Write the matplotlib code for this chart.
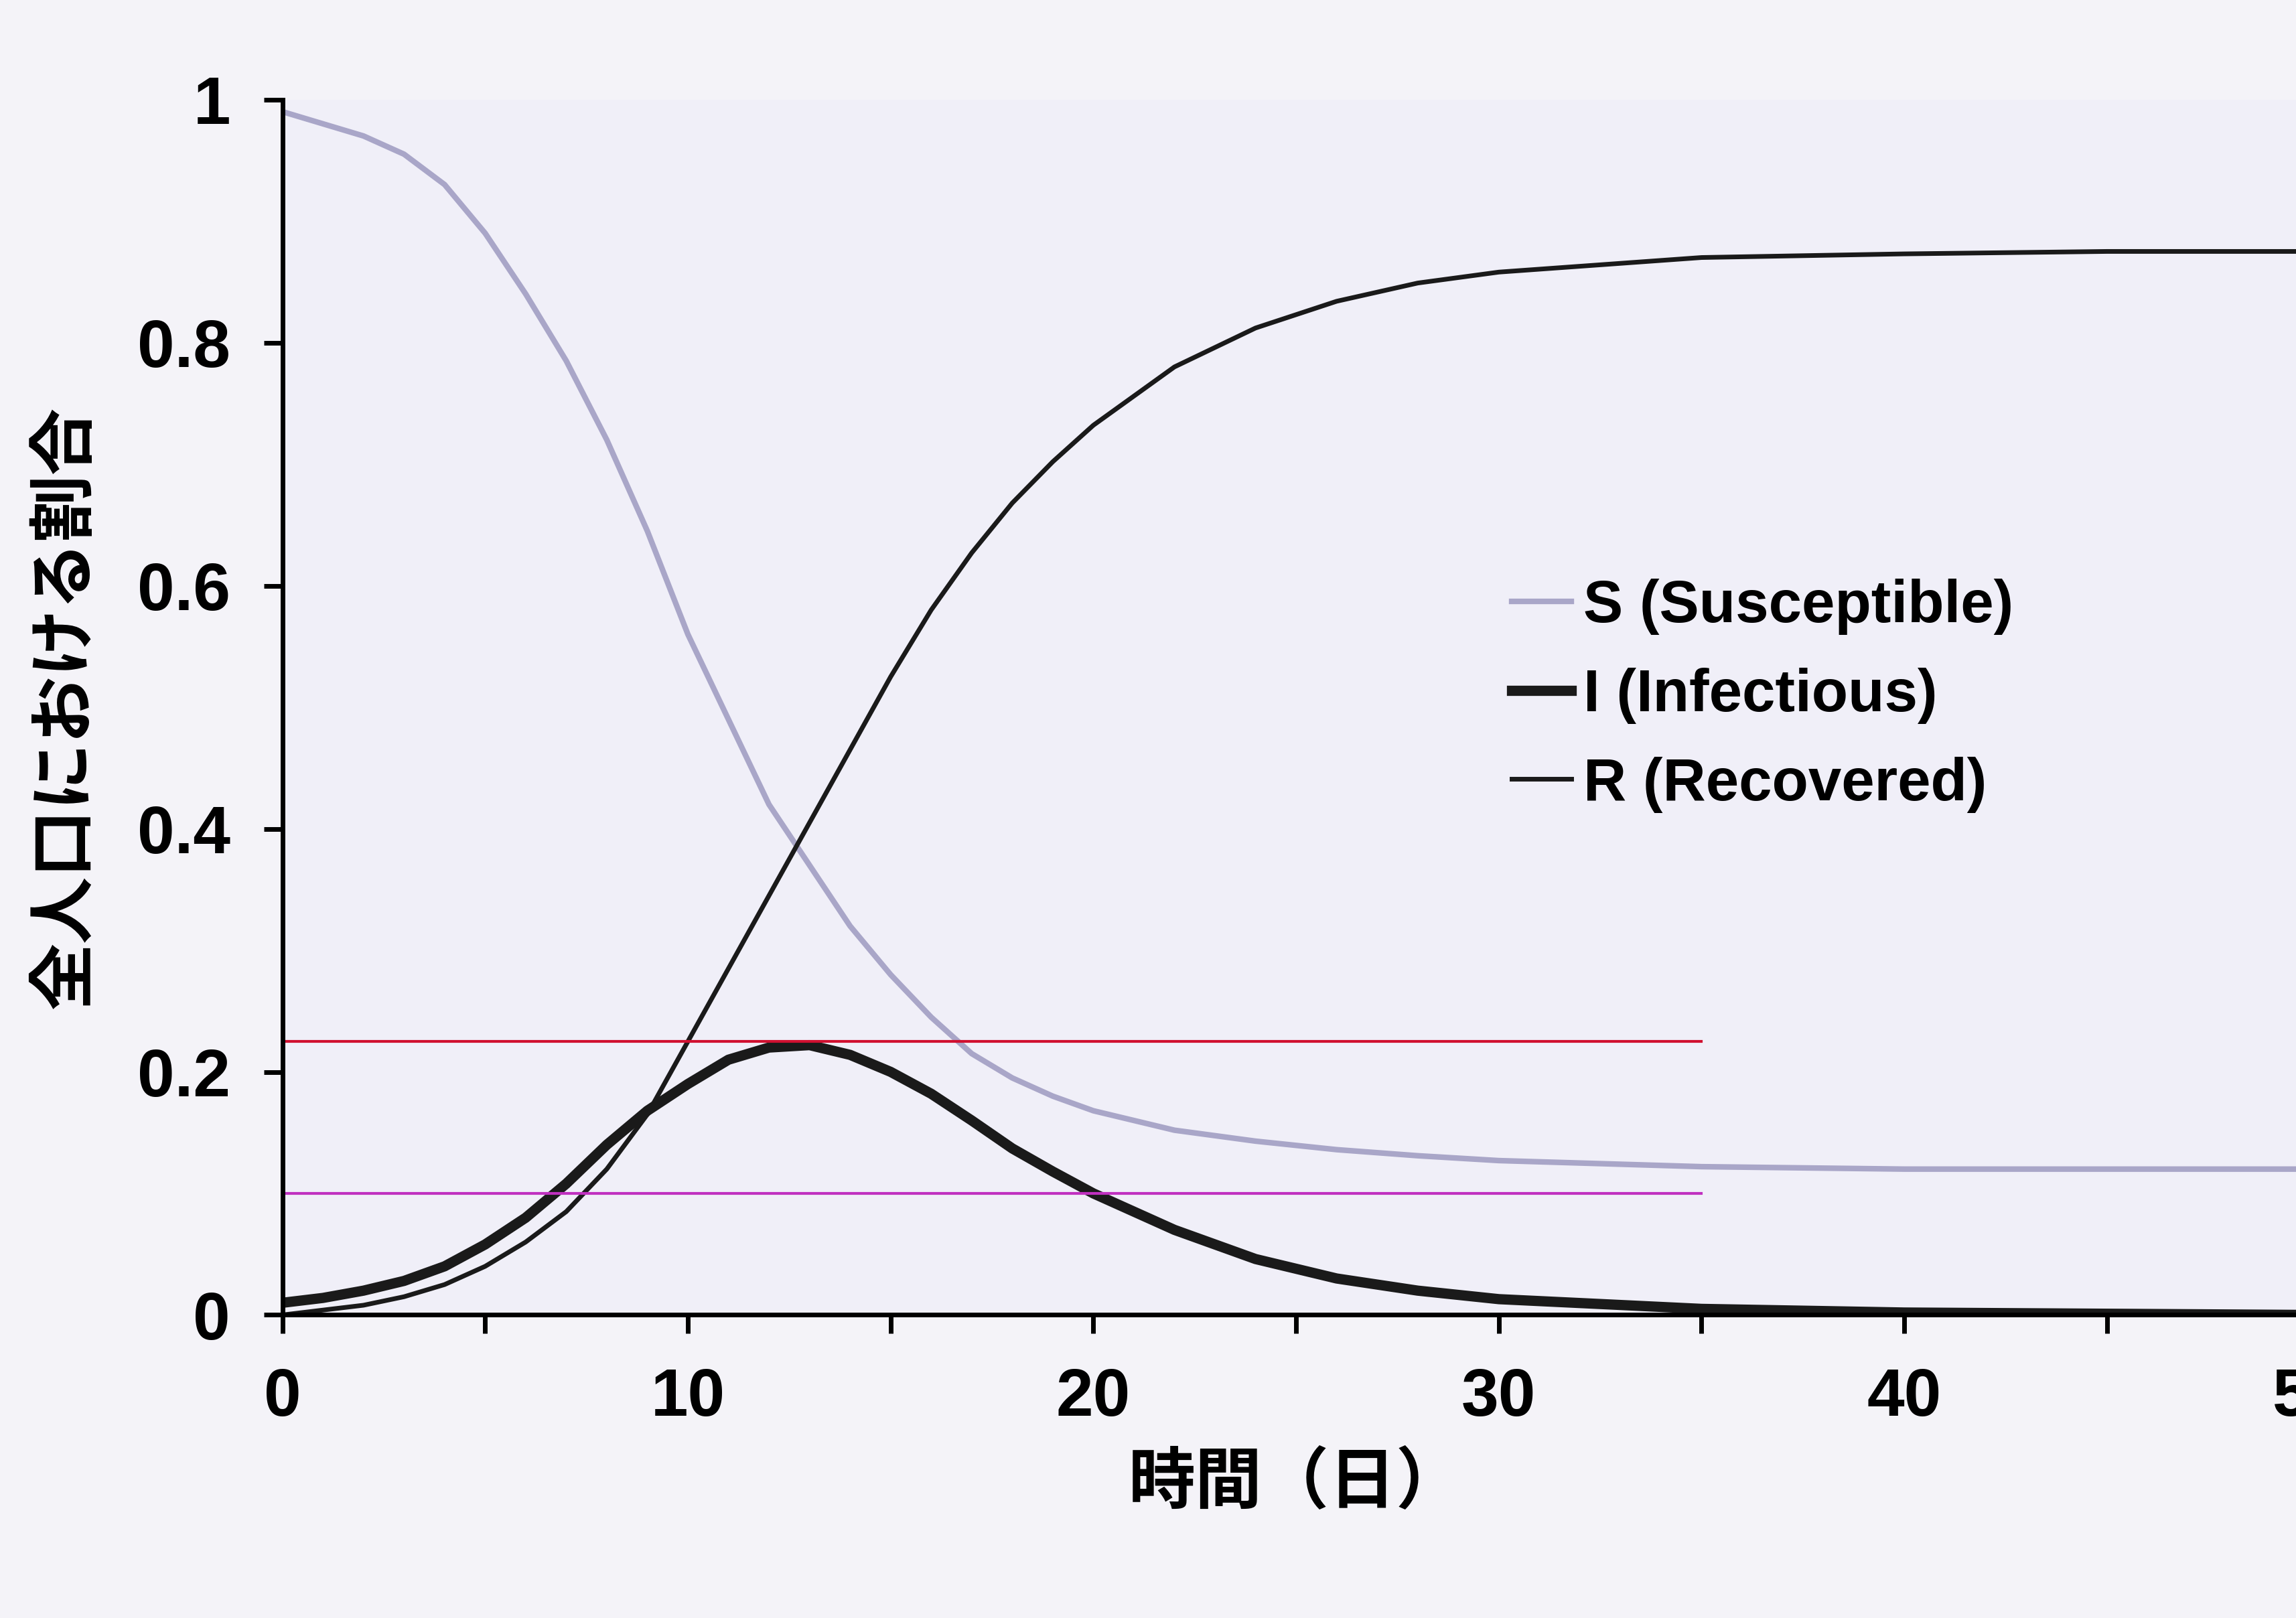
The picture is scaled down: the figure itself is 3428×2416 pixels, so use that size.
import matplotlib
matplotlib.use("Agg")
import matplotlib.pyplot as plt

plt.rcParams['font.family'] = ['Liberation Sans', 'Noto Sans CJK JP']

t = [0, 1, 2, 3, 4, 5, 6, 7, 8, 9, 10, 11, 12, 13, 14, 15, 16, 17, 18, 19, 20, 22, 24, 26, 28, 30, 35, 40, 45, 50]
S = [0.99, 0.98, 0.97, 0.955, 0.93, 0.89, 0.84, 0.785, 0.72, 0.645, 0.56, 0.49, 0.42, 0.37, 0.32, 0.28, 0.245, 0.215, 0.195, 0.18, 0.168, 0.152, 0.143, 0.136, 0.131, 0.127, 0.122, 0.12, 0.12, 0.12]
I = [0.01, 0.014, 0.02, 0.028, 0.04, 0.058, 0.08, 0.108, 0.14, 0.168, 0.19, 0.21, 0.22, 0.222, 0.214, 0.2, 0.182, 0.16, 0.137, 0.118, 0.1, 0.07, 0.046, 0.03, 0.02, 0.013, 0.005, 0.002, 0.001, 0.0]
R = [0.0, 0.004, 0.008, 0.015, 0.025, 0.04, 0.06, 0.085, 0.12, 0.165, 0.225, 0.285, 0.345, 0.405, 0.465, 0.525, 0.58, 0.627, 0.668, 0.702, 0.732, 0.78, 0.812, 0.834, 0.849, 0.858, 0.87, 0.873, 0.875, 0.875]
hlines = [0.225, 0.1]
hcolors = ['#d01030', '#c030c0']

fig = plt.figure(figsize=(17.14, 12.08), dpi=200, facecolor='#f4f3f8')
ax = fig.add_axes([0.123, 0.1873, 0.883, 0.7512], facecolor='#f0eff8')
ax.plot(t, S, color='#a9a6c8', lw=3, label='S (Susceptible)')
ax.plot(t, I, color='#1a1a1a', lw=5.5, label='I (Infectious)')
ax.plot(t, R, color='#1a1a1a', lw=2.5, label='R (Recovered)')
for y, c in zip(hlines, hcolors):
    ax.plot([0, 35], [y, y], color=c, lw=1.5)
ax.set_xlim(0, 50)
ax.set_ylim(0, 1)
ax.set_xticks([0, 10, 20, 30, 40, 50])
ax.set_xticks([5, 15, 25, 35, 45], minor=True)
ax.set_yticks([0, 0.2, 0.4, 0.6, 0.8, 1])
ax.set_yticklabels(['0', '0.2', '0.4', '0.6', '0.8', '1'])
ax.tick_params(labelsize=36, width=2.5, length=10, pad=18)
ax.tick_params(which='minor', width=2.5, length=10)
for l in ax.get_xticklabels() + ax.get_yticklabels():
    l.set_fontweight('bold')
for s in ['top', 'right']:
    ax.spines[s].set_visible(False)
for s in ['left', 'bottom']:
    ax.spines[s].set_linewidth(2.5)
ax.set_xlabel('時間（日）', fontsize=36, fontweight='bold', labelpad=10,
              family=['Noto Sans CJK JP'])
ax.set_ylabel('全人口における割合', fontsize=36, fontweight='bold', labelpad=20,
              family=['Noto Sans CJK JP'])
leg = ax.legend(loc='upper left', bbox_to_anchor=(0.58, 0.65), frameon=False, fontsize=32,
                handlelength=1.0, handletextpad=0.2, labelspacing=0.55)
for tx in leg.get_texts():
    tx.set_fontweight('bold')
fig.savefig('out.png', dpi=200, facecolor=fig.get_facecolor())
